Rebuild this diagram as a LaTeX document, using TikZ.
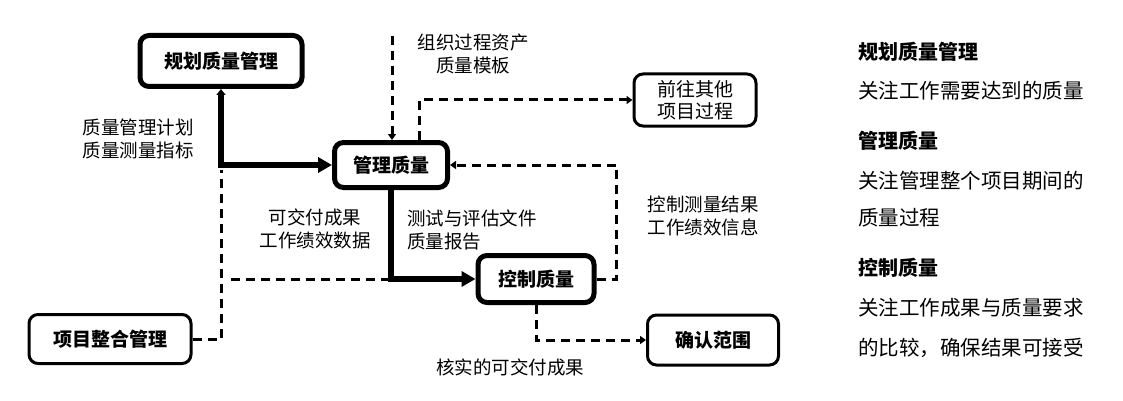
\documentclass[tikz,border=0pt]{standalone}
\usepackage{fontspec}
\setmainfont{Noto Sans CJK SC}
\usepackage{tikz}
\usetikzlibrary{arrows.meta, positioning}

\begin{document}
\begin{tikzpicture}[
      x=1pt, y=-1pt,
      mainbox/.style={draw=black, line width=5pt, rounded corners=9pt, font=\bfseries\fontsize{19}{22}\selectfont, align=center, inner sep=0pt},
      sidebox/.style={draw=black, line width=3pt, rounded corners=9pt, font=\fontsize{19}{22}\selectfont, align=center, inner sep=0pt},
      label/.style={font=\fontsize{18.5}{23.5}\selectfont, align=center, inner sep=0pt},
      notehead/.style={font=\bfseries\fontsize{20}{24}\selectfont, anchor=west, inner sep=0pt},
      notetext/.style={font=\fontsize{20.5}{24}\selectfont, anchor=west, inner sep=0pt},
      flow/.style={line width=5.5pt, -{Triangle[length=14pt, width=15pt]}},
      dashline/.style={line width=3pt, dash pattern=on 9pt off 6pt},
      dasharrow/.style={dashline, -{Triangle[length=6pt, width=8pt]}}
    ]

      \useasboundingbox (0,0) rectangle (1123,401);

      % process boxes
      \node[mainbox, minimum width=162pt, minimum height=51pt] (plan) at (221,61) {规划质量管理};
      \node[mainbox, minimum width=113pt, minimum height=45pt] (manage) at (391,165) {管理质量};
      \node[mainbox, minimum width=116pt, minimum height=47pt] (control) at (536,279) {控制质量};

      % neighbouring processes
      \node[sidebox, minimum width=122pt, minimum height=52pt] (other) at (695,100) {前往其他\\项目过程};
      \node[sidebox, font=\bfseries\fontsize{19}{22}\selectfont, minimum width=131pt, minimum height=50pt] (scope) at (713,340) {确认范围};
      \node[sidebox, font=\bfseries\fontsize{19}{22}\selectfont, minimum width=162pt, minimum height=49pt] (integ) at (110,339) {项目整合管理};

      % corner points of the connectors
      \coordinate (join) at (221,170);
      \coordinate (opa) at (392,36);
      \coordinate (split) at (389,279);

      % thick flows
      \draw[flow, {Triangle[length=6pt, width=9pt]}-{Triangle[length=14pt, width=15pt]}] (plan.south) |- (manage.west);
      \draw[flow] (manage.south) |- (control.west);

      % dashed flows
      \draw[dashline] (integ.east) -| (join);
      \draw[dashline] ([xshift=10pt]join |- split) -- (split);
      \draw[dasharrow] (opa) -- (opa |- manage.north);
      \draw[dasharrow] ([xshift=28pt]manage.north) |- (other.west);
      \draw[dasharrow] (control.east) -- ++(20,0) |- (manage.east);
      \draw[dasharrow] (control.south) |- (scope.west);

      % flow labels
      \node[label] (opa_lbl) at (473,54) {组织过程资产\\质量模板};
      \node[label] (plan_lbl) at (138,139) {质量管理计划\\质量测量指标};
      \node[label] (work_lbl) at (315,229) {可交付成果\\工作绩效数据};
      \node[label, anchor=west, align=left] (test_lbl) at (407,230) {测试与评估文件\\质量报告};
      \node[label] (meas_lbl) at (703,216) {控制测量结果\\工作绩效信息};
      \node[label] (verif_lbl) at (510,367) {核实的可交付成果};

      % notes on the right
      \node[notehead] (n1) at (858,52) {规划质量管理};
      \node[notetext] (t1) at (858,91) {关注工作需要达到的质量};
      \node[notehead] (n2) at (858,141) {管理质量};
      \node[notetext] (t2) at (858,181) {关注管理整个项目期间的};
      \node[notetext] (t3) at (858,218) {质量过程};
      \node[notehead] (n3) at (858,268) {控制质量};
      \node[notetext] (t4) at (858,308) {关注工作成果与质量要求};
      \node[notetext] (t5) at (858,348) {的比较，确保结果可接受};

    \end{tikzpicture}
\end{document}
